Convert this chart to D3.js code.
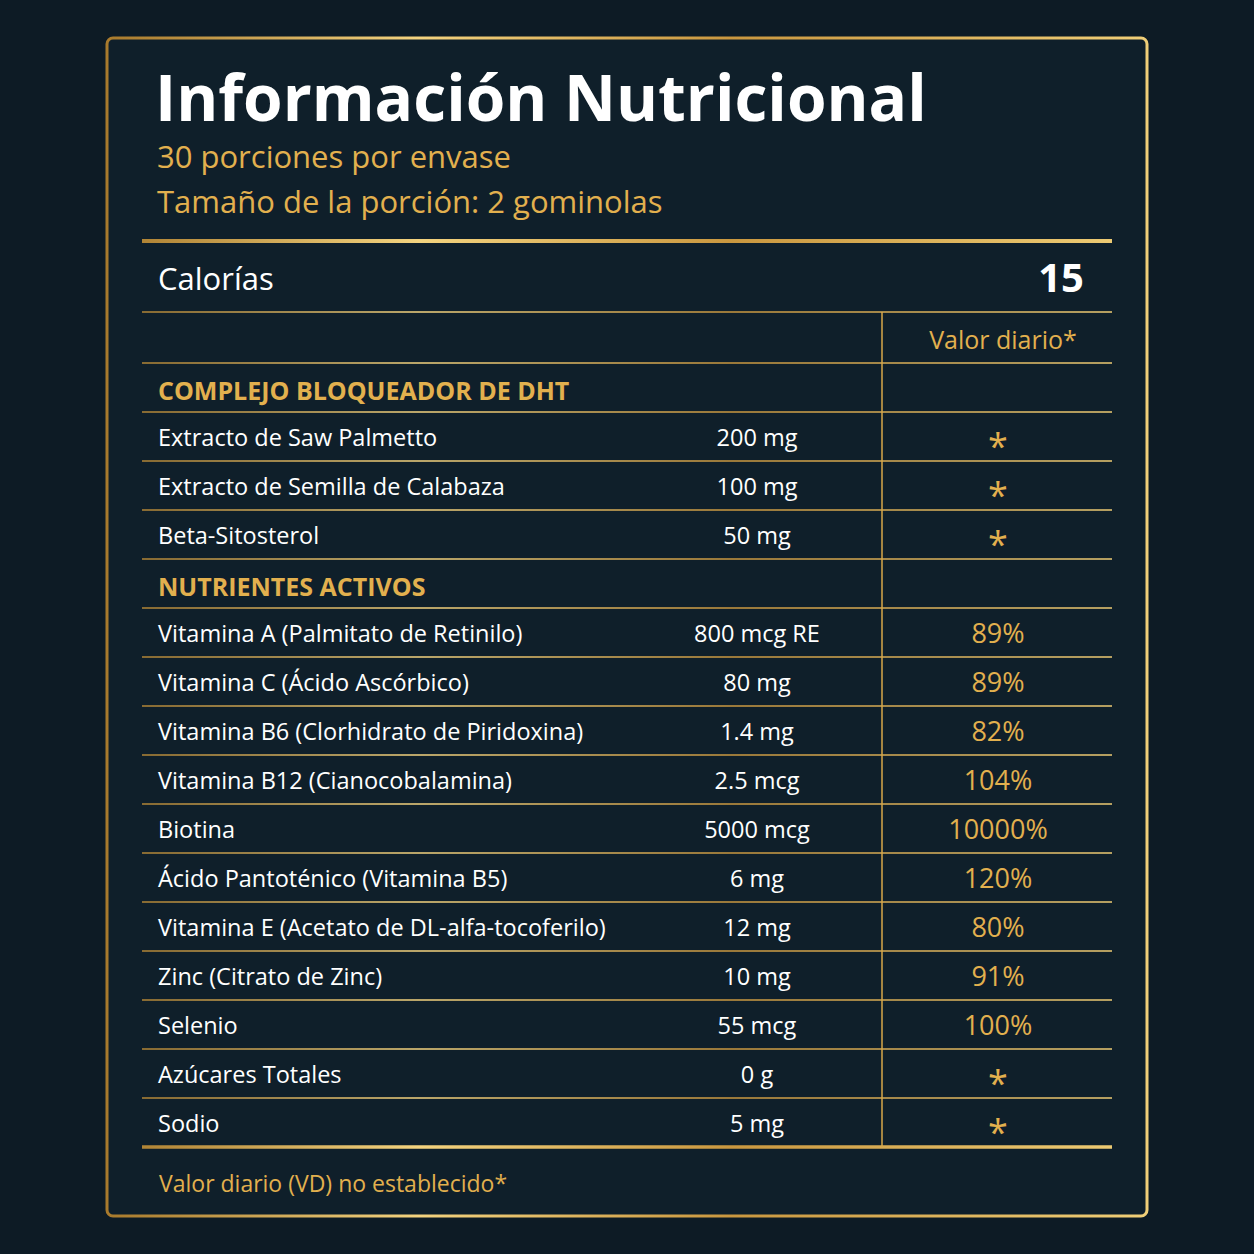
<!DOCTYPE html>
<html><head><meta charset="utf-8">
<script src="https://cdn.jsdelivr.net/npm/d3@7"></script>
<style>body{margin:0;background:#0d1b25}</style>
</head><body><svg id="c" width="1254" height="1254"></svg>
<script>
const title = "Información Nutricional";
const subtitles = ["30 porciones por envase", "Tamaño de la porción: 2 gominolas"];
const calories = 15;
const sections = ["COMPLEJO BLOQUEADOR DE DHT", "NUTRIENTES ACTIVOS"];
const group1Names = ["Extracto de Saw Palmetto", "Extracto de Semilla de Calabaza", "Beta-Sitosterol"];
const group1Amounts = ["200 mg", "100 mg", "50 mg"];
const group1DV = ["*", "*", "*"];
const group2Names = ["Vitamina A (Palmitato de Retinilo)", "Vitamina C (Ácido Ascórbico)", "Vitamina B6 (Clorhidrato de Piridoxina)",
  "Vitamina B12 (Cianocobalamina)", "Biotina", "Ácido Pantoténico (Vitamina B5)", "Vitamina E (Acetato de DL-alfa-tocoferilo)",
  "Zinc (Citrato de Zinc)", "Selenio", "Azúcares Totales", "Sodio"];
const group2Amounts = ["800 mcg RE", "80 mg", "1.4 mg", "2.5 mcg", "5000 mcg", "6 mg", "12 mg", "10 mg", "55 mcg", "0 g", "5 mg"];
const group2DV = ["89%", "89%", "82%", "104%", "10000%", "120%", "80%", "91%", "100%", "*", "*"];

const svg = d3.select("#c");
const gold = "#e2b04e", white = "#ffffff", font = "'Open Sans', Lato, sans-serif";
const defs = svg.append("defs");
const lg = defs.append("linearGradient").attr("id", "g").attr("gradientUnits", "userSpaceOnUse")
  .attr("x1", 106).attr("x2", 1148).attr("y1", 0).attr("y2", 0);
[["0", "#a87a2c"], ["0.3", "#f3d37f"], ["0.6", "#c9973f"], ["1", "#f0cf78"]].forEach(([o, c]) => lg.append("stop").attr("offset", o).attr("stop-color", c));

svg.append("rect").attr("width", 1254).attr("height", 1254).attr("fill", "#0d1b25");
svg.append("rect").attr("x", 107).attr("y", 38).attr("width", 1040).attr("height", 1178).attr("rx", 6)
  .attr("fill", "#0f1f2a").attr("stroke", "url(#g)").attr("stroke-width", 3);

const L = 142, R = 1112, xName = 158, xAmt = 757, xDV = 998, xV = 882;
const text = (x, y, s, size, fill, weight, anchor) => svg.append("text").attr("x", x).attr("y", y).text(s)
  .attr("font-family", font).attr("font-size", size).attr("fill", fill).attr("font-weight", weight || 400).attr("text-anchor", anchor || "start");
const hline = (y, w) => svg.append("line").attr("x1", L).attr("x2", R).attr("y1", y).attr("y2", y).attr("stroke", "url(#g)").attr("stroke-width", w || 1.5);

text(155, 121, title, 64, white, 700);
subtitles.forEach((s, i) => text(157, 168 + i * 45, s, 31, gold));
hline(241, 4);
text(158, 290, "Calorías", 31, white);
text(1084, 292, calories, 40, white, 700, "end");
hline(312);
text(1003, 349, "Valor diario*", 25, gold, 400, "middle");
hline(363);

// rows: boundaries via a band scale
const rows = [{type: "sec", name: sections[0]}]
  .concat(group1Names.map((n, i) => ({type: "row", name: n, amt: group1Amounts[i], dv: group1DV[i]})))
  .concat([{type: "sec", name: sections[1]}])
  .concat(group2Names.map((n, i) => ({type: "row", name: n, amt: group2Amounts[i], dv: group2DV[i]})));
const y = d3.scaleBand().domain(d3.range(rows.length)).range([363, 1147]);
rows.forEach((r, i) => {
  const y0 = y(i), mid = y0 + y.bandwidth() / 2;
  if (r.type === "sec") text(xName, mid + 12, r.name, 25, gold, 700);
  else {
    text(xName, mid + 9, r.name, 23.5, white);
    text(xAmt, mid + 9, r.amt, 23.5, white, 400, "middle");
    if (r.dv === "*") text(xDV, mid + 22, "*", 36, gold, 400, "middle");
    else text(xDV, mid + 10, r.dv, 27, gold, 400, "middle");
  }
  if (i < rows.length - 1) hline(y0 + y.bandwidth());
});
hline(1147, 3.5);
svg.append("line").attr("x1", xV).attr("x2", xV).attr("y1", 312).attr("y2", 1147).attr("stroke", "#d9a94a").attr("stroke-width", 1.5);
text(159, 1192, "Valor diario (VD) no establecido*", 23, gold);
</script></body></html>
